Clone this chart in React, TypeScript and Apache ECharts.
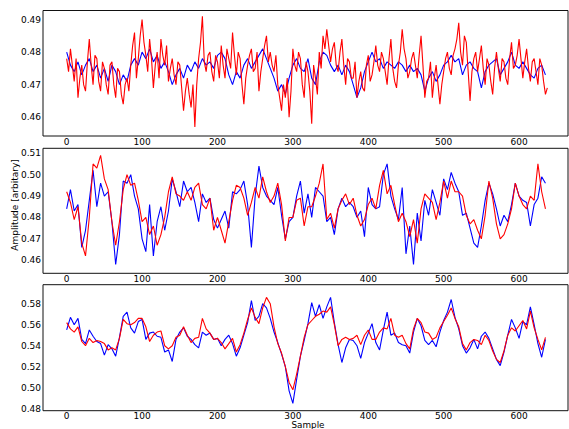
import React, { useEffect, useRef } from "react";
import * as echarts from "echarts";

const STEP = 5;

const p1Blue = [0.480,0.476,0.474,0.477,0.473,0.476,0.478,0.474,0.476,0.472,0.475,0.471,0.476,0.474,0.470,0.473,0.471,0.476,0.478,0.476,0.480,0.478,0.481,0.477,0.479,0.475,0.477,0.474,0.470,0.473,0.475,0.472,0.476,0.474,0.477,0.475,0.478,0.476,0.477,0.475,0.479,0.480,0.478,0.473,0.470,0.474,0.472,0.476,0.478,0.475,0.477,0.479,0.481,0.478,0.475,0.472,0.468,0.470,0.467,0.472,0.476,0.478,0.475,0.474,0.478,0.472,0.470,0.477,0.480,0.479,0.476,0.474,0.476,0.473,0.476,0.474,0.470,0.466,0.469,0.474,0.477,0.480,0.477,0.478,0.475,0.477,0.476,0.475,0.477,0.476,0.474,0.476,0.474,0.475,0.473,0.468,0.472,0.474,0.471,0.473,0.476,0.477,0.479,0.477,0.478,0.473,0.476,0.477,0.475,0.474,0.469,0.474,0.476,0.477,0.478,0.473,0.475,0.477,0.480,0.476,0.475,0.477,0.475,0.473,0.472,0.475,0.476,0.473];
// red, panel 1: samples at 0,5,10,... and the in-between samples at 2.5,7.5,...
const p1Red = [0.478,0.481,0.471,0.466,0.476,0.468,0.484,0.470,0.478,0.468,0.475,0.467,0.477,0.466,0.474,0.464,0.472,0.476,0.486,0.478,0.490,0.479,0.484,0.469,0.480,0.484,0.476,0.471,0.478,0.470,0.476,0.462,0.472,0.463,0.457,0.478,0.491,0.474,0.480,0.471,0.477,0.482,0.472,0.478,0.486,0.473,0.478,0.464,0.476,0.481,0.475,0.468,0.478,0.485,0.480,0.474,0.470,0.462,0.466,0.460,0.481,0.474,0.478,0.466,0.474,0.458,0.472,0.480,0.485,0.487,0.477,0.483,0.474,0.484,0.470,0.477,0.472,0.466,0.474,0.468,0.479,0.473,0.482,0.474,0.478,0.470,0.484,0.471,0.476,0.487,0.478,0.474,0.480,0.472,0.485,0.466,0.472,0.466,0.476,0.464,0.474,0.480,0.473,0.481,0.489,0.476,0.483,0.465,0.478,0.474,0.482,0.470,0.476,0.467,0.480,0.471,0.477,0.470,0.483,0.476,0.484,0.472,0.481,0.471,0.478,0.470,0.476,0.467];
const p1RedMid = [
  0.474,0.476,0.478,0.472,0.470,0.477,0.476,0.479,0.471,0.477,
  0.470,0.476,0.470,0.475,0.467,0.470,0.468,0.482,0.472,0.485,
  0.483,0.474,0.478,0.476,0.472,0.479,0.482,0.475,0.473,0.477,
  0.469,0.468,0.467,0.470,0.470,0.483,0.477,0.479,0.474,0.479,
  0.472,0.476,0.481,0.475,0.479,0.480,0.470,0.472,0.479,0.474,
  0.480,0.474,0.482,0.477,0.476,0.479,0.466,0.470,0.472,0.468,
  0.476,0.480,0.470,0.477,0.468,0.476,0.467,0.475,0.481,0.482,
  0.481,0.476,0.480,0.476,0.478,0.472,0.477,0.471,0.469,0.476,
  0.471,0.477,0.476,0.480,0.474,0.478,0.475,0.469,0.480,0.481,
  0.472,0.478,0.476,0.479,0.476,0.471,0.477,0.472,0.470,0.470,
  0.478,0.475,0.479,0.484,0.480,0.485,0.474,0.474,0.480,0.478,
  0.475,0.478,0.471,0.475,0.475,0.478,0.472,0.478,0.475,0.479,
  0.478,0.477,0.475,0.477,0.474,0.478,0.471,0.469,
];

const p2Blue = [0.484,0.493,0.483,0.486,0.466,0.474,0.488,0.502,0.485,0.496,0.490,0.492,0.478,0.458,0.472,0.497,0.496,0.500,0.490,0.484,0.470,0.464,0.486,0.462,0.478,0.485,0.474,0.483,0.498,0.492,0.485,0.497,0.492,0.494,0.487,0.478,0.491,0.487,0.489,0.479,0.475,0.479,0.483,0.475,0.492,0.491,0.493,0.497,0.486,0.466,0.490,0.504,0.494,0.490,0.488,0.486,0.494,0.481,0.470,0.478,0.480,0.490,0.497,0.482,0.491,0.480,0.494,0.492,0.490,0.478,0.480,0.472,0.484,0.489,0.485,0.487,0.485,0.480,0.483,0.471,0.494,0.486,0.484,0.485,0.500,0.505,0.490,0.484,0.479,0.494,0.463,0.476,0.458,0.482,0.469,0.488,0.481,0.493,0.487,0.481,0.498,0.493,0.501,0.496,0.492,0.481,0.482,0.475,0.468,0.466,0.476,0.488,0.496,0.491,0.484,0.476,0.481,0.478,0.486,0.496,0.490,0.488,0.487,0.476,0.486,0.489,0.499,0.496];
const p2Red = [0.492,0.487,0.479,0.485,0.468,0.462,0.480,0.505,0.503,0.509,0.498,0.493,0.478,0.467,0.478,0.493,0.500,0.495,0.496,0.488,0.478,0.480,0.472,0.476,0.467,0.472,0.480,0.492,0.499,0.491,0.490,0.488,0.492,0.488,0.494,0.496,0.486,0.484,0.489,0.474,0.480,0.474,0.468,0.478,0.488,0.495,0.494,0.489,0.481,0.487,0.494,0.489,0.499,0.492,0.487,0.490,0.496,0.486,0.469,0.480,0.480,0.488,0.489,0.476,0.485,0.485,0.490,0.496,0.505,0.479,0.482,0.475,0.484,0.488,0.491,0.486,0.489,0.481,0.476,0.479,0.486,0.489,0.484,0.495,0.502,0.491,0.495,0.486,0.478,0.482,0.478,0.471,0.479,0.468,0.484,0.491,0.489,0.487,0.479,0.487,0.497,0.489,0.497,0.492,0.492,0.490,0.481,0.477,0.479,0.474,0.470,0.481,0.497,0.489,0.477,0.470,0.472,0.477,0.484,0.496,0.490,0.486,0.484,0.490,0.488,0.505,0.492,0.484];

const p3Blue = [0.555,0.567,0.560,0.566,0.546,0.542,0.555,0.549,0.544,0.542,0.531,0.541,0.537,0.530,0.548,0.568,0.572,0.557,0.552,0.563,0.565,0.546,0.552,0.553,0.549,0.548,0.534,0.536,0.525,0.546,0.553,0.557,0.549,0.546,0.541,0.538,0.553,0.550,0.552,0.546,0.547,0.540,0.546,0.550,0.542,0.530,0.538,0.550,0.562,0.583,0.564,0.568,0.580,0.576,0.566,0.553,0.543,0.532,0.520,0.497,0.485,0.508,0.530,0.545,0.561,0.581,0.568,0.579,0.566,0.577,0.586,0.562,0.541,0.524,0.538,0.546,0.545,0.540,0.528,0.543,0.552,0.561,0.543,0.536,0.555,0.572,0.550,0.552,0.543,0.541,0.540,0.533,0.553,0.566,0.559,0.545,0.541,0.545,0.539,0.553,0.564,0.572,0.584,0.567,0.556,0.540,0.533,0.538,0.546,0.537,0.549,0.553,0.547,0.537,0.527,0.521,0.534,0.550,0.565,0.557,0.547,0.563,0.560,0.577,0.560,0.542,0.529,0.546];
const p3Red = [0.562,0.556,0.553,0.558,0.544,0.540,0.547,0.543,0.545,0.544,0.542,0.536,0.538,0.536,0.547,0.565,0.561,0.560,0.562,0.566,0.566,0.558,0.544,0.550,0.553,0.554,0.540,0.537,0.540,0.548,0.550,0.558,0.550,0.543,0.547,0.548,0.566,0.556,0.552,0.546,0.547,0.543,0.537,0.542,0.547,0.534,0.541,0.552,0.565,0.576,0.567,0.561,0.576,0.586,0.580,0.558,0.542,0.533,0.520,0.505,0.498,0.513,0.530,0.548,0.560,0.564,0.568,0.570,0.573,0.572,0.577,0.560,0.540,0.546,0.548,0.546,0.547,0.550,0.541,0.550,0.555,0.546,0.546,0.553,0.557,0.556,0.566,0.550,0.548,0.550,0.542,0.537,0.556,0.566,0.562,0.553,0.552,0.546,0.548,0.557,0.563,0.569,0.576,0.566,0.558,0.542,0.536,0.543,0.546,0.545,0.541,0.550,0.545,0.535,0.527,0.524,0.535,0.550,0.557,0.554,0.559,0.564,0.556,0.573,0.557,0.546,0.536,0.548];

const xTicks = [0, 100, 200, 300, 400, 500, 600];
const y1Ticks = [0.46, 0.47, 0.48, 0.49];
const y2Ticks = [0.46, 0.47, 0.48, 0.49, 0.50, 0.51];
const y3Ticks = [0.48, 0.50, 0.52, 0.54, 0.56, 0.58];
const yLimits = [
  [0.4542, 0.4928],
  [0.4539, 0.5123],
  [0.4781, 0.5981],
];

const FONT = "DejaVu Sans";

export default function App() {
  const ref = useRef<HTMLDivElement>(null);
  useEffect(() => {
    document.body.style.margin = "0";
    if (!ref.current) return;
    const chart = echarts.init(ref.current, null, { renderer: "svg" });
    const tops = [10.5, 148.3, 284.7];
    const heights = [125.5, 125, 126];
    const yTickSets = [y1Ticks, y2Ticks, y3Ticks];
    const toPts = (arr: number[]) => arr.map((v, i) => [i * STEP, v]);
    const p1RedPts: number[][] = [];
    p1Red.forEach((v, i) => {
      p1RedPts.push([i * STEP, v]);
      if (i < p1RedMid.length) p1RedPts.push([i * STEP + STEP / 2, p1RedMid[i]]);
    });
    const bluePts = [toPts(p1Blue), toPts(p2Blue), toPts(p3Blue)];
    const redPts = [p1RedPts, toPts(p2Red), toPts(p3Red)];

    const grids = tops.map((t, i) => ({
      left: 43,
      top: t,
      width: 525,
      height: heights[i],
      show: true,
      borderColor: "#111",
      borderWidth: 1,
      backgroundColor: "#fff",
    }));
    const xAxes = tops.map((_, i) => ({
      type: "value",
      gridIndex: i,
      min: -31.4,
      max: 664.9,
      axisLine: { show: false, onZero: false },
      splitLine: { show: false },
      axisTick: { show: false },
      axisLabel: {
        customValues: xTicks,
        fontFamily: FONT,
        fontSize: 9,
        lineHeight: 9,
        color: "#000",
        margin: i === 2 ? 0.5 : 1.5,
      },
    }));
    const yAxes = tops.map((_, i) => ({
      type: "value",
      gridIndex: i,
      min: yLimits[i][0],
      max: yLimits[i][1],
      axisLine: { show: false, onZero: false },
      splitLine: { show: false },
      axisTick: { show: false },
      axisLabel: {
        customValues: yTickSets[i],
        formatter: (v: number) => v.toFixed(2),
        fontFamily: FONT,
        fontSize: 9,
        color: "#000",
        margin: 2,
      },
    }));
    const series: any[] = [];
    for (let i = 0; i < 3; i++) {
      series.push({
        type: "line",
        xAxisIndex: i,
        yAxisIndex: i,
        data: bluePts[i],
        showSymbol: false,
        lineStyle: { color: "#0000ff", width: 1.1 },
        itemStyle: { color: "#0000ff" },
      });
      series.push({
        type: "line",
        xAxisIndex: i,
        yAxisIndex: i,
        data: redPts[i],
        showSymbol: false,
        lineStyle: { color: "#ff0000", width: 1.1 },
        itemStyle: { color: "#ff0000" },
      });
    }
    chart.setOption({
      animation: false,
      backgroundColor: "#fff",
      grid: grids,
      xAxis: xAxes,
      yAxis: yAxes,
      series,
      graphic: [
        {
          type: "text",
          x: 15,
          y: 205,
          rotation: Math.PI / 2,
          style: {
            text: "Amplitude [arbitary]",
            fontFamily: FONT,
            fontSize: 9,
            fill: "#000",
            textAlign: "center",
            textVerticalAlign: "middle",
          },
        },
        {
          type: "text",
          x: 308,
          y: 425,
          style: {
            text: "Sample",
            fontFamily: FONT,
            fontSize: 8.8,
            lineHeight: 8,
            fill: "#000",
            textAlign: "center",
            textVerticalAlign: "middle",
          },
        },
      ],
    });
    return () => chart.dispose();
  }, []);
  return <div ref={ref} style={{ width: 569, height: 429 }} />;
}
